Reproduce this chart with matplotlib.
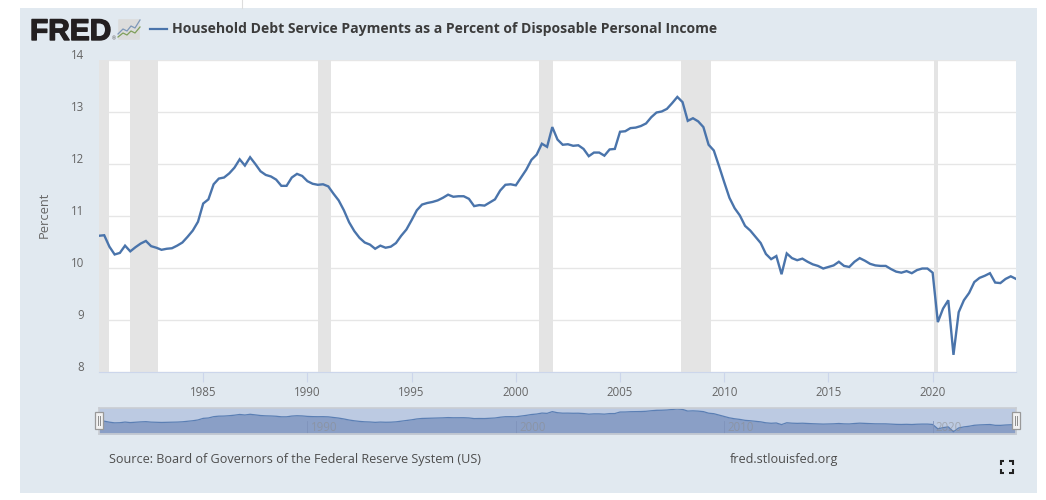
#!/usr/bin/env python3
import matplotlib
matplotlib.use("Agg")
import matplotlib.pyplot as plt
import numpy as np
from matplotlib.patches import FancyBboxPatch, Rectangle
from matplotlib.transforms import ScaledTranslation
import matplotlib.patheffects as pe

plt.rcParams["font.family"] = ["Open Sans", "DejaVu Sans"]

TITLE = "Household Debt Service Payments as a Percent of Disposable Personal Income"
SOURCE = "Source: Board of Governors of the Federal Reserve System (US)"
SITE = "fred.stlouisfed.org"

START_YEAR = 1980
# quarterly, 1980Q1 to 2024Q1
values = [
    10.62, 10.63, 10.41, 10.26, 10.29, 10.43, 10.32, 10.40, 10.47, 10.52,
    10.42, 10.39, 10.35, 10.37, 10.38, 10.43, 10.49, 10.60, 10.72, 10.89,
    11.24, 11.32, 11.61, 11.72, 11.74, 11.82, 11.93, 12.09, 11.97, 12.13,
    12.00, 11.86, 11.79, 11.76, 11.70, 11.58, 11.58, 11.74, 11.81, 11.77,
    11.67, 11.62, 11.60, 11.61, 11.57, 11.43, 11.30, 11.11, 10.88, 10.71,
    10.58, 10.49, 10.45, 10.37, 10.43, 10.39, 10.41, 10.48, 10.62, 10.74,
    10.92, 11.11, 11.22, 11.25, 11.27, 11.30, 11.35, 11.41, 11.37, 11.38,
    11.38, 11.33, 11.19, 11.21, 11.20, 11.26, 11.32, 11.49, 11.60, 11.61,
    11.59, 11.74, 11.89, 12.08, 12.18, 12.39, 12.33, 12.71, 12.47, 12.37,
    12.38, 12.35, 12.36, 12.29, 12.15, 12.22, 12.22, 12.16, 12.28, 12.29,
    12.62, 12.63, 12.69, 12.70, 12.73, 12.78, 12.90, 12.99, 13.01, 13.06,
    13.17, 13.29, 13.19, 12.83, 12.88, 12.82, 12.71, 12.37, 12.26, 11.96,
    11.65, 11.35, 11.15, 11.01, 10.81, 10.72, 10.60, 10.48, 10.27, 10.17,
    10.23, 9.88, 10.28, 10.19, 10.15, 10.18, 10.12, 10.07, 10.04, 9.99,
    10.02, 10.05, 10.12, 10.04, 10.02, 10.12, 10.19, 10.14, 10.08, 10.05,
    10.04, 10.04, 9.98, 9.93, 9.91, 9.94, 9.90, 9.96, 9.99, 9.99,
    9.91, 8.96, 9.22, 9.38, 8.33, 9.15, 9.38, 9.52, 9.73, 9.81,
    9.85, 9.90, 9.72, 9.71, 9.79, 9.84, 9.79,
]
recessions = [
    (1980.0, 1980.5), (1981.5, 1982.85), (1990.5, 1991.15), (2001.12, 2001.8),
    (2007.92, 2009.36), (2020.08, 2020.25),
]
y_ticks = [8, 9, 10, 11, 12, 13, 14]
x_ticks = [1985, 1990, 1995, 2000, 2005, 2010, 2015, 2020]
nav_ticks = [1990, 2000, 2010, 2020]

PANEL = "#e1e9f0"
LINE = "#4a74ab"
GRID = "#e6e6e6"
AXIS = "#ccd6eb"
TEXT = "#666666"
W, H = 1046, 500


def box(left, top, right, bottom):
    return [left / W, 1 - bottom / H, (right - left) / W, (bottom - top) / H]


def pixel_axes(fig, zorder):
    ax = fig.add_axes([0, 0, 1, 1], zorder=zorder)
    ax.set(xlim=(0, W), ylim=(H, 0))
    ax.axis("off")
    return ax


def main():
    years = START_YEAR + np.arange(len(values)) / 4
    fig = plt.figure(figsize=(W / 100, H / 100), dpi=100, facecolor="white")

    back = pixel_axes(fig, 0)
    back.add_patch(Rectangle((20, 7.5), 1017, 485.5, color=PANEL, lw=0))
    back.plot([241.5, 241.5], [0, 7.5], color="#dddddd", lw=0.8)

    # logo
    back.text(30, 40, "FRED", family="Liberation Sans", weight="bold", fontsize=21.5,
              color="#231f20", va="baseline", ha="left",
              path_effects=[pe.withStroke(linewidth=1.0, foreground="#231f20")])
    back.text(111.5, 40.5, "®", fontsize=3.5, color="#555555", va="baseline")
    back.add_patch(FancyBboxPatch((119, 20), 20, 19, boxstyle="round,pad=0.8",
                                  fc="#dcdcdc", ec="none"))
    back.plot([118, 123, 127, 131, 135, 140], [34, 29, 31, 26, 28, 20], color="#7d97b8", lw=0.9)
    back.plot([118, 123, 127, 131, 135, 140], [37, 33, 35, 31, 33, 27], color="#7f9f5a", lw=0.9)

    # header
    back.plot([150, 166.5], [29, 29], color=LINE, lw=1.6)
    back.text(172.5, 29.5, TITLE, weight="bold", fontsize=10.08, color="#3c3c3c",
              va="center", ha="left")

    # footer
    back.text(109, 459.5, SOURCE, fontsize=9.13, color="#4d4d4d", va="center", ha="left")
    back.text(730, 459.5, SITE, fontsize=9.13, color="#4d4d4d", va="center", ha="left")
    for cx, cy, dx, dy in [(1000.5, 461, 1, 1), (1012.5, 461, -1, 1),
                           (1000.5, 472.5, 1, -1), (1012.5, 472.5, -1, -1)]:
        back.plot([cx + 3.5 * dx, cx, cx], [cy, cy, cy + 3.5 * dy], color="#222222", lw=1.5,
                  solid_capstyle="butt", solid_joinstyle="miter")

    back.text(44, 215, "Percent", rotation=90, fontsize=9.3, color=TEXT, va="center", ha="center")

    # main chart
    ax = fig.add_axes(box(99, 60, 1016, 372), zorder=1)
    ax.set_facecolor("white")
    for start, end in recessions:
        ax.axvspan(start, end, color="#e4e4e4", lw=0, zorder=1)
    ax.plot(years, values, color=LINE, lw=1.7, zorder=3, solid_joinstyle="miter")
    ax.set(xlim=(1980, 2024), ylim=(8, 14))
    ax.set_yticks(y_ticks)
    ax.set_xticks(x_ticks)
    ax.grid(axis="y", color=GRID, lw=1, zorder=0)
    ax.set_axisbelow(True)
    for name in ("top", "right", "left"):
        ax.spines[name].set_visible(False)
    ax.spines["bottom"].set_color(AXIS)
    ax.tick_params(axis="x", length=7.2, width=0.8, color=AXIS, labelsize=8.3,
                   labelcolor=TEXT, pad=3)
    ax.tick_params(axis="y", length=0, labelsize=8.3, labelcolor=TEXT, pad=11)
    nudge = ScaledTranslation(0, -1.7 / 100, fig.dpi_scale_trans)
    for label in ax.get_yticklabels():
        label.set_verticalalignment("bottom")
        label.set_transform(label.get_transform() + nudge)

    # range selector
    nav = fig.add_axes(box(99, 408, 1016, 434), zorder=1)
    nav.set_facecolor("#bccae2")
    nav.fill_between(years, values, 7.8, color="#8a9fc6", lw=0)
    nav.plot(years, values, color="#5b7fb4", lw=0.9)
    nav.set(xlim=(1980, 2024), ylim=(7.83, 13.5), yticks=[], xticks=[])
    for name in ("top", "bottom", "left", "right"):
        nav.spines[name].set_color("#c9cdd3")
        nav.spines[name].set_linewidth(1.2)
    for year in nav_ticks:
        nav.axvline(year, color="#7f93bb", lw=0.6, ymax=0.5)
        nav.text(year + 0.15, 9.3, str(year), fontsize=8.3, color="#8c8c8c", alpha=0.55,
                 va="center", ha="left")

    front = pixel_axes(fig, 2)
    front.patch.set_alpha(0)
    for left in (94.5, 1011.5):
        front.add_patch(Rectangle((left, 412), 8, 16.5, fc="#f2f2f2", ec="#999999", lw=0.9))
        for dx in (3, 5):
            front.plot([left + dx, left + dx], [416, 425], color="#8c8c8c", lw=0.7)

    fig.savefig("out.png", dpi=100, facecolor="white")
    plt.close(fig)


if __name__ == "__main__":
    main()
